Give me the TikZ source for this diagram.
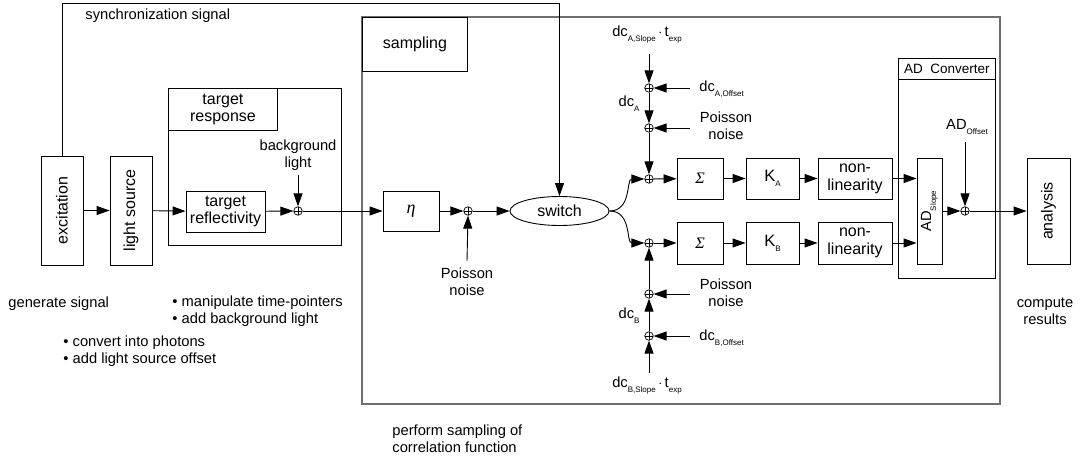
\documentclass[tikz,border=0pt]{standalone}
\usepackage{fontspec}
\setmainfont{Liberation Sans}
\newfontfamily\serifgreek{Liberation Serif}
\usetikzlibrary{arrows.meta,shapes.geometric}
\newcommand{\lsub}[1]{\raisebox{-5pt}{\fontsize{8}{9}\selectfont #1}}
\newcommand{\bigK}{{\fontsize{16.5}{18}\selectfont K}}
\begin{document}
\begin{tikzpicture}[x=1pt,y=-1pt,
  font=\fontsize{14.7}{16.8}\selectfont,
  every node/.style={inner sep=0pt},
  line width=0.9pt,
  box/.style={draw,align=center,inner sep=0pt,font=\fontsize{16}{17.8}\selectfont},
  sumnode/.style={circle,draw,minimum size=8.5pt,inner sep=0pt,line width=0.7pt,
    path picture={\draw[line width=0.7pt] (path picture bounding box.north) -- (path picture bounding box.south)
      (path picture bounding box.west) -- (path picture bounding box.east);}},
  arr/.style={-{Triangle[length=13pt,width=9pt]}},
  lbl/.style={align=center},
  grayline/.style={draw={rgb,255:red,110;green,110;blue,110},line width=1.2pt}
]
\useasboundingbox (0,0) rectangle (1081,462);

% outer frames
\draw[grayline] (362,17) rectangle (1000,404);
\node[box,minimum width=105pt,minimum height=54pt,anchor=north west] (samplbl) at (362,17) {sampling};
\draw (168,88) rectangle (341,245);
\node[box,minimum width=109pt,minimum height=42pt,anchor=north west] (trlbl) at (168,88) {target\\response};
\draw (898,58) rectangle (995,278);
\node[box,minimum width=97pt,minimum height=21pt,anchor=north west,font=\fontsize{13.5}{15}\selectfont] (adlbl) at (898,58) {AD\ \ Converter};

% main chain
\node[box,minimum width=42pt,minimum height=109pt] (exc) at (62,210.5) {\rotatebox{90}{excitation}};
\node[box,minimum width=42pt,minimum height=109pt] (ls) at (131,210.5) {\rotatebox{90}{light source}};
\node[box,minimum width=79pt,minimum height=41pt] (trefl) at (225.5,211.5) {target\\reflectivity};
\node[sumnode] (bgsum) at (298,211) {};
\node[lbl] (bglight) at (298,155) {background\\light};
\node[box,minimum width=56pt,minimum height=40pt,font=\fontsize{18}{20}\selectfont] (eta) at (411,211) {{\serifgreek\itshape η}};
\node[sumnode] (psum) at (468,211) {};
\node[lbl] (pnoise) at (467,282) {Poisson\\noise};
\node[draw,ellipse,minimum width=99pt,minimum height=29pt,font=\fontsize{16}{17.8}\selectfont] (switch) at (559.5,211) {switch};

% branch A
\node[sumnode] (sumA1) at (649,88) {};
\node[sumnode] (sumA2) at (649,128) {};
\node[sumnode] (sumA) at (649,179) {};
\node (dcAslope) at (647,35) {dc\lsub{A,Slope}\,$\cdot$\,t\lsub{exp}};
\coordinate (dcAin) at (649,54);
\node[anchor=east] (dcA) at (640,104) {dc\lsub{A}};
\node[anchor=base west] (dcAoff) at (699,92) {dc\lsub{A,Offset}};
\coordinate (dcAoffin) at (690,88);
\node[lbl] (pnA) at (726,126) {Poisson\\noise};
\coordinate (pnAin) at (690,128);
\node[box,minimum width=46pt,minimum height=41pt] (sigA) at (700,178.5) {{\serifgreek\itshape Σ}};
\node[box,minimum width=53pt,minimum height=41pt] (KA) at (772.5,178.5) {\bigK\lsub{A}};
\node[box,minimum width=74pt,minimum height=41pt] (nlA) at (855,178.5) {non-\\linearity};

% branch B
\node[sumnode] (sumB) at (649,243) {};
\node[sumnode] (sumB1) at (649,294) {};
\node[sumnode] (sumB2) at (649,336) {};
\node (dcBslope) at (647,386) {dc\lsub{B,Slope}\,$\cdot$\,t\lsub{exp}};
\coordinate (dcBin) at (649,373);
\node[anchor=east] (dcB) at (640,316) {dc\lsub{B}};
\node[anchor=base west] (dcBoff) at (699,340) {dc\lsub{B,Offset}};
\coordinate (dcBoffin) at (690,336);
\node[lbl] (pnB) at (726,293) {Poisson\\noise};
\coordinate (pnBin) at (690,294);
\node[box,minimum width=46pt,minimum height=42pt] (sigB) at (700,243) {{\serifgreek\itshape Σ}};
\node[box,minimum width=53pt,minimum height=42pt] (KB) at (772.5,243) {\bigK\lsub{B}};
\node[box,minimum width=74pt,minimum height=42pt] (nlB) at (855,243) {non-\\linearity};

% AD converter
\node[box,minimum width=25pt,minimum height=106pt,font=\fontsize{14.7}{16}\selectfont] (ADs) at (929.5,211) {\rotatebox{90}{AD\lsub{Slope}}};
\node[sumnode] (adsum) at (965,211) {};
\node (ADoff) at (967,127) {AD\lsub{Offset}};
\coordinate (ADoffin) at (965,142);
\node[box,minimum width=43pt,minimum height=106pt] (ana) at (1048.5,211) {\rotatebox{90}{analysis}};

% free texts
\node[anchor=west] (gen) at (8,304) {generate signal};
\node[anchor=west,align=left] (manip) at (172,311.5) {\textbullet\ manipulate time-pointers\\\textbullet\ add background light};
\node[anchor=west,align=left] (conv) at (63,351) {\textbullet\ convert into photons\\\textbullet\ add light source offset};
\node[anchor=west,align=left] (perf) at (392,439) {perform sampling of\\correlation function};
\node[lbl] (comp) at (1045,311) {compute\\results};
\node[anchor=west] (sync) at (85,16) {synchronization signal};

% connectors
\draw[arr] (exc) -- (ls);
\draw[arr] (ls) -- (trefl);
\draw[arr] (trefl) -- (bgsum);
\draw[arr] (bglight.south) ++(0,4) -- (bgsum.north);
\draw[arr] (bgsum) -- (eta);
\draw[arr] (eta) -- (psum);
\draw[arr] (pnoise.north) ++(0,-7) -- (psum.south);
\draw[arr] (psum) -- (switch);
\draw[arr] (exc.north) -- (62,3) -| (switch.north);
\draw[arr] (switch.east) .. controls (632,211) and (626,179) .. (sumA.west);
\draw[arr] (switch.east) .. controls (632,211) and (626,243) .. (sumB.west);

\draw[arr] (dcAin) -- (sumA1.north);
\draw[arr] (sumA1) -- (sumA2);
\draw[arr] (sumA2) -- (sumA);
\draw[arr] (dcAoffin) -- (sumA1.east);
\draw[arr] (pnAin) -- (sumA2.east);
\draw[arr] (sumA) -- (sigA);
\draw[arr] (sigA) -- (KA);
\draw[arr] (KA) -- (nlA);
\draw[arr] (nlA.east) -- (nlA.east -| ADs.west);

\draw[arr] (dcBin) -- (sumB2.south);
\draw[arr] (sumB2) -- (sumB1);
\draw[arr] (sumB1) -- (sumB);
\draw[arr] (dcBoffin) -- (sumB2.east);
\draw[arr] (pnBin) -- (sumB1.east);
\draw[arr] (sumB) -- (sigB);
\draw[arr] (sigB) -- (KB);
\draw[arr] (KB) -- (nlB);
\draw[arr] (nlB.east) -- (nlB.east -| ADs.west);

\draw[arr] (ADs) -- (adsum);
\draw[arr] (ADoffin) -- (adsum.north);
\draw[arr] (adsum) -- (ana);
\end{tikzpicture}
\end{document}
